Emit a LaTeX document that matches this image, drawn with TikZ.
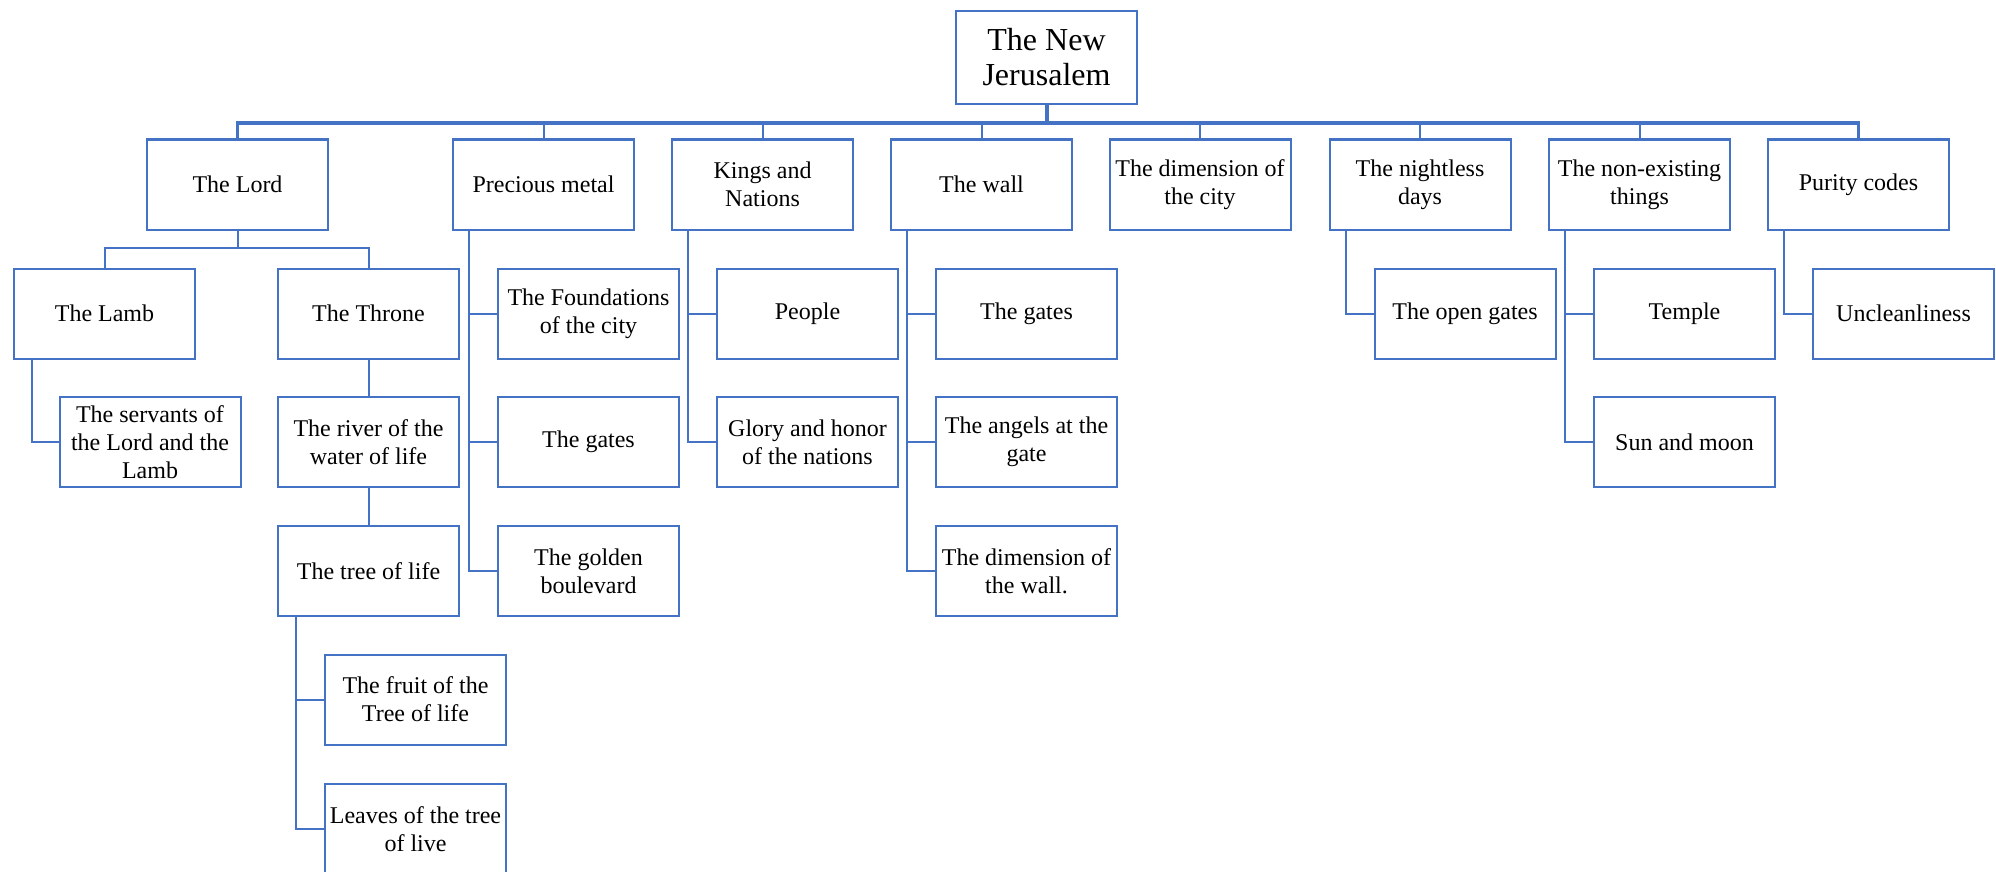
\documentclass[tikz,border=0pt]{standalone}
\usepackage{fontspec}
\setmainfont{Liberation Serif}
\usetikzlibrary{calc}
\definecolor{obl}{HTML}{4472C4}
\tikzset{
  box/.style={draw=obl, line width=1pt, fill=white, minimum width=90.5pt, minimum height=45pt,
    inner sep=1pt, align=center, font=\fontsize{12pt}{14pt}\selectfont},
  rootbox/.style={box, minimum height=46.5pt, font=\fontsize{16pt}{17.5pt}\selectfont},
  conn/.style={draw=obl, line width=1pt},
  busline/.style={draw=obl, line width=1.6pt},
}
\begin{document}
\begin{tikzpicture}[x=0.5pt,y=-0.5pt]
\useasboundingbox (0,0) rectangle (1996,872);
\fill[white] (0,0) rectangle (1996,872);
\coordinate (bus) at (0,123);
\coordinate (lsub) at (0,248);
% root
\node[rootbox] (root) at (1046.5,57.5) {The New\\Jerusalem};
% level 1
\node[box] (lord) at (237.5,184.5) {The Lord};
\node[box] (prec) at (543.5,184.5) {Precious metal};
\node[box] (kings) at (762.5,184.5) {Kings and\\Nations};
\node[box] (wall) at (981.5,184.5) {The wall};
\node[box] (dimcity) at (1200,184.5) {The dimension of\\the city};
\node[box] (night) at (1420,184.5) {The nightless\\days};
\node[box] (nonex) at (1639.5,184.5) {The non-existing\\things};
\node[box] (purity) at (1858.5,184.5) {Purity codes};
% Lord subtree
\node[box] (lamb) at (104.5,313.5) {The Lamb};
\node[box] (throne) at (368.5,313.5) {The Throne};
\node[box] (servants) at (150,442) {The servants of\\the Lord and the\\Lamb};
\node[box] (river) at (368.5,442) {The river of the\\water of life};
\node[box] (tree) at (368.5,571) {The tree of life};
\node[box] (fruit) at (415.5,699.5) {The fruit of the\\Tree of life};
\node[box] (leaves) at (415.5,829) {Leaves of the tree\\of live};
% Precious metal children
\node[box] (found) at (588.5,313.5) {The Foundations\\of the city};
\node[box] (pgates) at (588.5,442) {The gates};
\node[box] (gold) at (588.5,571) {The golden\\boulevard};
% Kings children
\node[box] (people) at (807.5,313.5) {People};
\node[box] (glory) at (807.5,442) {Glory and honor\\of the nations};
% Wall children
\node[box] (wgates) at (1026.5,313.5) {The gates};
\node[box] (angels) at (1026.5,442) {The angels at the\\gate};
\node[box] (wdim) at (1026.5,571) {The dimension of\\the wall.};
% Nightless child
\node[box] (open) at (1465,313.5) {The open gates};
% Non-existing children
\node[box] (temple) at (1684.5,313.5) {Temple};
\node[box] (sun) at (1684.5,442) {Sun and moon};
% Purity child
\node[box] (unclean) at (1903.5,313.5) {Uncleanliness};

% connectors: root and bus
\draw[conn, line width=2pt] (root.south) -- (root.south |- bus);
\draw[busline] (lord.north) |- (purity.north |- bus) -- (purity.north);
\foreach \n in {prec,kings,wall,dimcity,night,nonex}
  \draw[conn] (\n.north) -- (\n.north |- bus);
% Lord subtree
\draw[conn] (lord.south) -- (lord.south |- lsub);
\draw[conn] (lamb.north) |- (throne.north |- lsub) -- (throne.north);
\draw[conn] ($(lamb.south west)+(19,0)$) |- (servants.west);
\draw[conn] (throne.south) -- (river.north);
\draw[conn] (river.south) -- (tree.north);
\draw[conn] ($(tree.south west)+(19,0)$) |- (fruit.west);
\draw[conn] ($(tree.south west)+(19,0)$) |- (leaves.west);
% side children
\foreach \p/\c in {prec/found,prec/pgates,prec/gold,kings/people,kings/glory,wall/wgates,wall/angels,wall/wdim,night/open,nonex/temple,nonex/sun,purity/unclean}
  \draw[conn] ($(\p.south west)+(17,0)$) |- (\c.west);
\end{tikzpicture}
\end{document}
